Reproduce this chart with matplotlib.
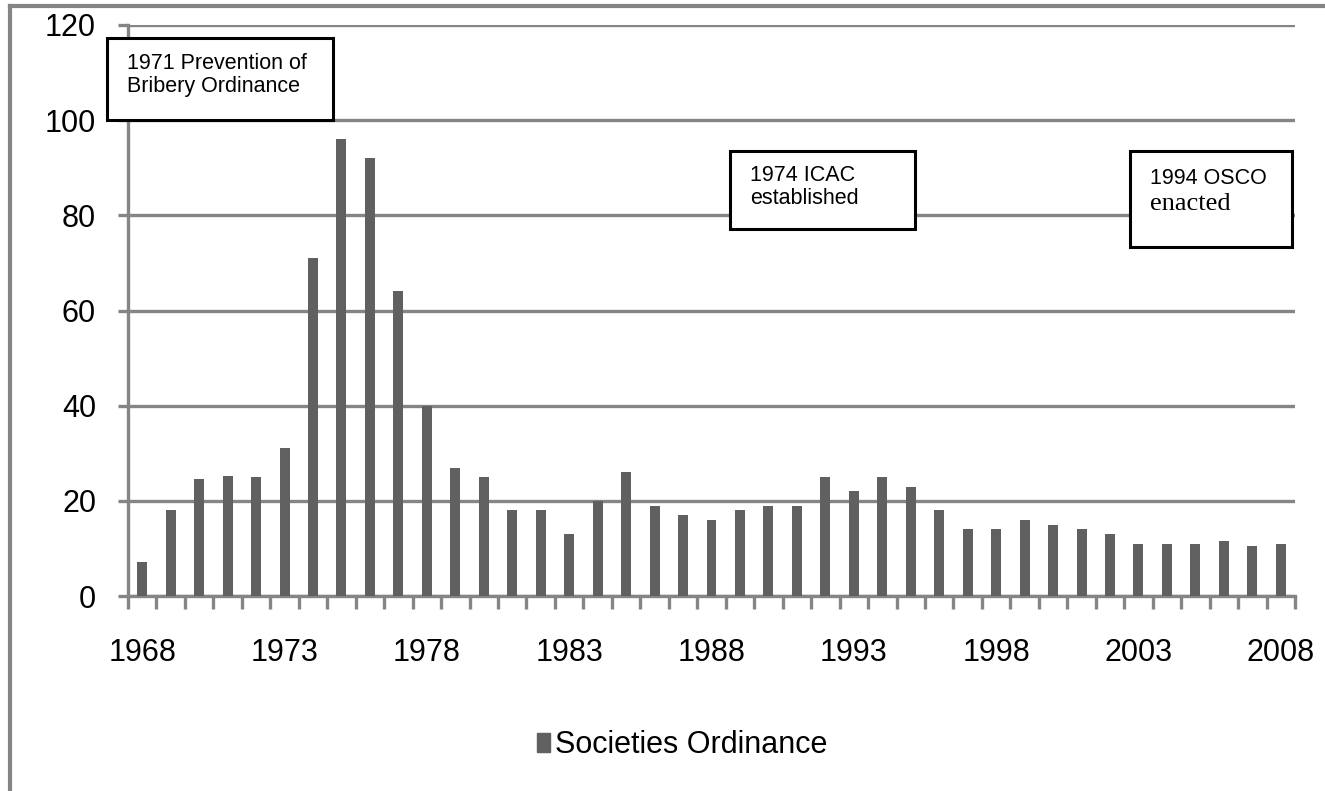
import numpy as np
import matplotlib
matplotlib.use("Agg")
import matplotlib.pyplot as plt
from matplotlib.patches import Rectangle
from matplotlib.lines import Line2D

plt.rcParams['font.family'] = ['Liberation Sans', 'DejaVu Sans']

# data
years = list(range(1968, 2009))
values = [7.2, 18, 24.6, 25.2, 25, 31, 71, 96, 92, 64,
          40, 27, 25, 18, 18, 13, 20, 26, 19, 17,
          16, 18, 19, 19, 25, 22, 25, 23, 18, 14,
          14, 16, 15, 14, 13, 11, 11, 11, 11.5, 10.6, 11]
yticks = [0, 20, 40, 60, 80, 100, 120]
series_name = "Societies Ordinance"
notes = ["1971 Prevention of\nBribery Ordinance", "1974 ICAC\nestablished"]

W, H = 1325, 791
fig = plt.figure(figsize=(W / 100, H / 100), dpi=100)


def fx(px):
    return px / W


def fy(py):
    return 1 - py / H


grey = '#858585'
ax = fig.add_axes([fx(128), fy(596), fx(1295) - fx(128), fy(25) - fy(596)])
x = np.arange(len(years))
ax.bar(x, values, width=0.35, color='#606060', zorder=3)
ax.set_xlim(-0.5, len(years) - 0.5)
ax.set_ylim(0, 120)

for s in ['top', 'right']:
    ax.spines[s].set_visible(False)
for s in ['left', 'bottom']:
    ax.spines[s].set_color(grey)
    ax.spines[s].set_linewidth(2.4)

ax.set_yticks(yticks)
ax.set_yticklabels([str(v) for v in yticks], fontsize=22)
ax.tick_params(axis='y', length=7, width=2.4, color=grey, pad=16)
ax.yaxis.grid(True, color=grey, linewidth=2.4, zorder=0)

ax.set_xticks(x[::5])
ax.set_xticklabels([str(y) for y in years[::5]], fontsize=22)
ax.tick_params(axis='x', which='major', length=0, pad=30)
ax.set_xticks(np.arange(-0.5, len(years), 1), minor=True)
ax.tick_params(axis='x', which='minor', length=9, width=2.4, color=grey)

# outer frame (cut by the image edges)
fig.add_artist(Line2D([fx(10), 1], [fy(6), fy(6)], color=grey, lw=3))
fig.add_artist(Line2D([fx(10), fx(10)], [fy(6), 0], color=grey, lw=3))


def box(x0, y0, x1, y1):
    fig.add_artist(Rectangle((fx(x0), fy(y1)), fx(x1) - fx(x0), fy(y0) - fy(y1),
                             facecolor='white', edgecolor='black', lw=2.2,
                             transform=fig.transFigure, zorder=5))


box(107, 38, 333, 120)
fig.text(fx(127), fy(53), notes[0], fontsize=15.5, va='top', ha='left',
         linespacing=1.15, zorder=6)
box(730, 151, 915, 229)
fig.text(fx(750), fy(165), notes[1], fontsize=15.5, va='top', ha='left',
         linespacing=1.15, zorder=6)
box(1130, 151, 1292, 247)
fig.text(fx(1150), fy(168), "1994 OSCO", fontsize=15.5, va='top', ha='left', zorder=6)
fig.text(fx(1150), fy(193), "enacted", fontsize=19, va='top', ha='left',
         family=['Liberation Serif', 'DejaVu Serif'], zorder=6)

fig.legend([Rectangle((0, 0), 1, 1, color='#606060')], [series_name],
           loc='center', bbox_to_anchor=(fx(682), fy(745)), frameon=False,
           fontsize=22, handlelength=0.45, handleheight=0.6, handletextpad=0.15)

plt.savefig("out.png", dpi=100)
